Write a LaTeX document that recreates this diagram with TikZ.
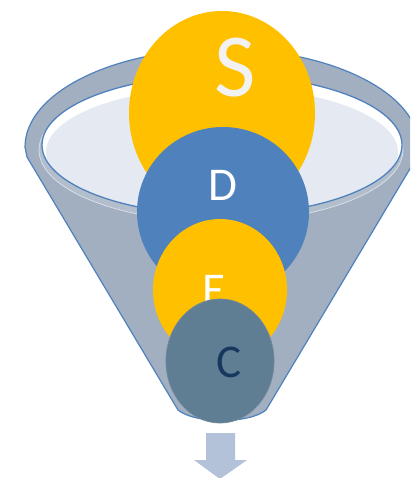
\documentclass[tikz,border=0pt]{standalone}
\usepackage{fontspec}
\setmainfont{Carlito}
\usetikzlibrary{shapes.geometric}
\definecolor{fyellow}{HTML}{FFC000}
\definecolor{fblue}{HTML}{4F81BD}
\definecolor{fgray}{HTML}{A2AFC0}
\definecolor{fband}{HTML}{B3BECD}
\definecolor{flight}{HTML}{E5E9F2}
\definecolor{fslate}{HTML}{5F7E93}
\definecolor{fslateline}{HTML}{71879B}
\definecolor{fnavy}{HTML}{17375E}
\definecolor{farrow}{HTML}{B3C2D9}
\definecolor{soffwhite}{HTML}{F2F2F2}
\tikzset{
  ball/.style={ellipse, inner sep=0pt, draw=none},
  letter/.style={inner sep=0pt, font=\fontsize{47}{47}\selectfont},
}
\begin{document}
\begin{tikzpicture}[x=1pt,y=-1pt]
\useasboundingbox (0,0) rectangle (410,478);
\clip (0,0) rectangle (410,478);
% funnel body
\draw[fill=fgray, draw=fblue, line width=1.2pt, line join=round]
  (25,147) arc[start angle=180,end angle=360,x radius=197,y radius=98]
  -- (417,157) -- (272,400) -- (266,410)
  .. controls (249,424) and (195,424) .. (178,410)
  -- (172,400) -- (27,157) -- cycle;
% lighter band
\draw[fill=fband, draw=white!55!fband, line width=0.7pt] (221,150) ellipse[x radius=182, y radius=72];
% inner opening
\fill[white] (222,145) ellipse[x radius=180, y radius=70];
\begin{scope}
  \clip (222,145) ellipse[x radius=180, y radius=70];
  \fill[flight] (222,152) ellipse[x radius=176, y radius=65];
\end{scope}
\draw[fblue, line width=1.3pt] (222,145) ellipse[x radius=180, y radius=70];
% balls
\node[ball, fill=fyellow, minimum width=186pt, minimum height=204pt] (s) at (222,113) {};
\node[letter, text=soffwhite, font=\fontsize{90}{90}\selectfont] (st) at (235,68) {S};
\node[ball, fill=fblue, minimum width=172pt, minimum height=170pt] (d) at (223,212) {};
\node[letter, text=white] (dt) at (223,185) {D};
\node[ball, fill=fyellow, minimum width=134pt, minimum height=142pt] (e) at (220,290) {};
\node[letter, text=white] (et) at (214,290) {E};
\node[ball, fill=fslate, draw=fslateline, line width=0.8pt, minimum width=108pt, minimum height=124pt] (c) at (220,361) {};
\node[letter, text=fnavy] (ct) at (229,362) {C};
% arrow
\fill[farrow] (206,433) -- (235,433) -- (235,460) -- (247,460) -- (220,479) -- (194,460) -- (206,460) -- cycle;
\end{tikzpicture}
\end{document}
